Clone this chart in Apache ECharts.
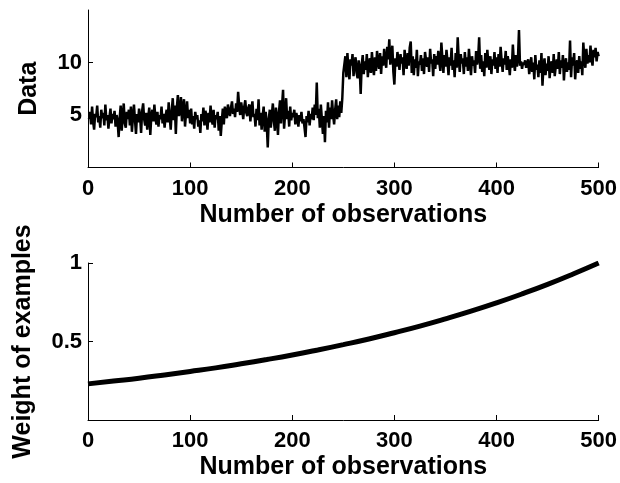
<!DOCTYPE html>
<html>
<head>
<meta charset="utf-8">
<script src="https://cdn.jsdelivr.net/npm/echarts@6/dist/echarts.min.js"></script>
<style>html,body{margin:0;padding:0;background:#fff}#c{width:620px;height:483px}</style>
</head>
<body>
<div id="c"></div>
<script>
// Top panel: observed data, observations 1..500
const dataValues = [
4.6,5.3,4.1,5.8,4.4,3.6,5.1,4.8,5.9,4.3,
4.9,3.8,5.5,4.7,5.2,4.0,6.0,4.5,5.0,3.7,
4.8,5.6,4.2,5.1,4.6,5.4,3.9,5.0,4.4,2.9,
4.7,5.9,3.5,4.9,6.1,4.2,3.8,5.3,4.6,5.5,
4.0,5.8,3.4,4.8,6.0,4.5,3.2,5.1,4.3,5.6,
4.9,3.3,5.4,6.1,4.6,4.0,5.2,3.6,4.8,5.7,
3.1,4.9,5.5,4.4,6.0,4.7,4.1,5.3,3.9,5.0,
4.6,5.8,4.2,5.1,3.8,4.9,5.5,4.3,6.2,4.8,
3.6,5.4,6.6,4.5,5.9,3.2,5.7,6.9,4.9,5.3,
6.7,4.4,5.8,6.5,3.9,5.2,6.3,4.7,5.5,4.2,
5.6,4.1,4.9,3.7,5.3,4.6,5.0,3.9,4.5,3.3,
5.1,4.4,5.7,4.0,5.4,4.8,3.6,5.2,4.3,5.9,
4.7,4.1,5.5,3.8,5.0,4.6,5.3,3.5,4.9,3.0,
4.4,5.6,4.1,5.8,5.2,4.7,6.0,5.4,4.9,5.7,
6.3,5.1,5.6,4.8,6.1,5.3,7.2,5.9,5.0,6.2,
5.5,4.6,5.8,6.4,5.2,4.9,5.7,6.0,4.4,5.5,
6.3,4.8,5.1,3.9,5.6,4.5,6.5,4.0,5.2,3.6,
4.9,5.8,3.4,5.3,4.2,1.9,4.6,5.5,3.8,5.0,
6.1,4.4,3.5,5.7,4.8,3.1,5.3,6.4,4.2,5.9,
7.4,3.7,5.1,6.6,4.6,5.4,3.9,5.8,4.5,5.2,
4.8,5.5,4.1,5.2,4.7,3.9,5.0,4.4,5.3,4.2,
4.6,3.8,2.9,4.9,4.3,5.4,4.0,5.1,4.6,5.7,
4.5,6.0,5.0,8.1,4.7,5.6,3.8,6.0,4.6,3.2,
4.9,2.4,5.4,4.3,6.2,3.8,5.7,4.6,6.4,5.0,
4.1,5.5,6.5,4.6,5.9,4.8,6.3,5.2,6.6,9.0,
9.1,10.6,8.6,10.9,9.4,8.4,10.3,9.7,10.8,8.7,
9.9,10.5,9.0,8.5,10.2,9.5,7.0,9.8,10.7,8.9,
10.1,9.3,10.8,8.6,9.9,10.4,9.0,11.0,9.6,8.8,
10.5,9.2,11.1,10.0,9.4,10.9,8.9,10.6,9.7,11.3,
10.2,9.5,11.5,10.3,12.2,9.8,10.7,11.6,9.1,7.9,
10.4,9.6,11.0,10.1,9.3,10.8,9.9,10.5,8.8,11.2,
10.0,9.4,10.9,9.7,11.4,12.0,9.0,10.6,8.8,10.3,
9.5,11.2,8.7,10.1,9.8,10.7,9.2,10.4,8.9,11.0,
10.2,9.6,10.5,9.1,11.3,9.9,10.3,8.7,10.8,9.4,
10.6,9.8,11.1,10.0,9.2,11.9,10.4,9.0,10.7,9.6,
11.2,10.1,8.8,10.5,9.7,11.4,9.3,10.2,8.6,10.9,
9.5,12.4,10.3,9.1,10.8,9.9,10.4,8.9,11.0,9.6,
10.5,9.2,11.3,10.0,8.8,10.6,9.7,10.2,9.0,11.1,
9.8,10.4,12.4,9.4,10.7,9.1,10.1,8.7,10.9,9.5,
11.2,10.0,9.3,10.6,8.9,10.3,9.7,11.0,9.4,10.5,
9.0,10.8,9.6,11.5,10.2,9.1,10.4,9.8,11.1,9.3,
10.6,9.9,8.8,10.3,9.5,11.7,10.0,9.2,10.7,9.6,
10.4,13.1,9.7,10.1,9.4,10.0,9.8,10.2,9.5,9.9,
10.3,8.9,9.6,10.5,9.1,10.0,8.4,10.7,9.3,9.8,
8.6,10.2,9.0,10.9,7.8,9.7,10.4,8.8,9.9,9.2,
10.6,8.5,9.8,10.1,9.0,10.8,8.7,9.6,10.3,9.4,
11.0,8.9,10.2,9.5,10.7,8.3,9.9,10.4,9.1,10.0,
9.3,12.1,8.6,10.5,9.7,10.9,8.4,9.8,10.2,9.0,
10.6,9.4,10.1,8.8,11.9,10.3,9.5,11.3,9.9,10.7,
10.0,11.6,10.4,9.7,11.2,10.5,11.4,10.1,11.0,10.6
];
// Bottom panel: weight curve sampled every 25 observations
const weightObs = [0,25,50,75,100,125,150,175,200,225,250,275,300,325,350,375,400,425,450,475,500];
const weightValues = [0.230,0.248,0.266,0.287,0.309,0.332,0.358,0.385,0.414,0.446,0.480,0.516,0.556,0.598,0.644,0.693,0.746,0.803,0.864,0.930,1.000];
const xTicks = [0,100,200,300,400,500];
const topYTicks = [5,10];
const bottomYTicks = [0.5,1];
const xTitle = 'Number of observations';
const topYTitle = 'Data';
const bottomYTitle = 'Weight of examples';

const FONT = '"Liberation Sans", Arial, sans-serif';
const tickTxt = {color:'#000', fontFamily:FONT, fontWeight:'bold', fontSize:22};
const nameTxt = {color:'#000', fontFamily:FONT, fontWeight:'bold', fontSize:25};
const axLine = {show:true, lineStyle:{color:'#000', width:1}};

function xAxis(gridIndex){
  return {
    type:'value', gridIndex, min:0, max:500, interval:100,
    axisLine:axLine,
    axisTick:{show:true, inside:true, length:5, lineStyle:{color:'#000'}, customValues:xTicks},
    axisLabel:Object.assign({margin:10, customValues:xTicks}, tickTxt),
    splitLine:{show:false},
    name:xTitle, nameLocation:'middle', nameGap:35,
    nameTextStyle:nameTxt
  };
}
function yAxis(gridIndex, min, max, ticks, title, gap){
  return {
    type:'value', gridIndex, min, max,
    axisLine:axLine,
    axisTick:{show:true, inside:true, length:5, lineStyle:{color:'#000'}, customValues:ticks},
    axisLabel:Object.assign({margin:6, customValues:ticks}, tickTxt),
    splitLine:{show:false},
    name:title, nameLocation:'middle', nameGap:gap, nameRotate:90,
    nameTextStyle:nameTxt
  };
}

const chart = echarts.init(document.getElementById('c'), null, {renderer:'canvas'});
chart.setOption({
  backgroundColor:'#fff',
  animation:false,
  grid:[
    {left:88, width:512, top:10, height:157.5},
    {left:88, width:512, top:263, height:157}
  ],
  xAxis:[xAxis(0), xAxis(1)],
  yAxis:[
    yAxis(0, 0, 15, topYTicks, topYTitle, 46),
    yAxis(1, 0, 1, bottomYTicks, bottomYTitle, 52)
  ],
  series:[
    {
      type:'line', xAxisIndex:0, yAxisIndex:0,
      data:dataValues.map((v,i)=>[i+1, v]),
      showSymbol:false, symbol:'none',
      lineStyle:{color:'#000', width:2.5},
      sampling:null
    },
    {
      type:'line', xAxisIndex:1, yAxisIndex:1,
      data:weightObs.map((x,i)=>[x, weightValues[i]]),
      showSymbol:false, symbol:'none', smooth:true,
      lineStyle:{color:'#000', width:5}
    }
  ]
});
</script>
</body>
</html>
